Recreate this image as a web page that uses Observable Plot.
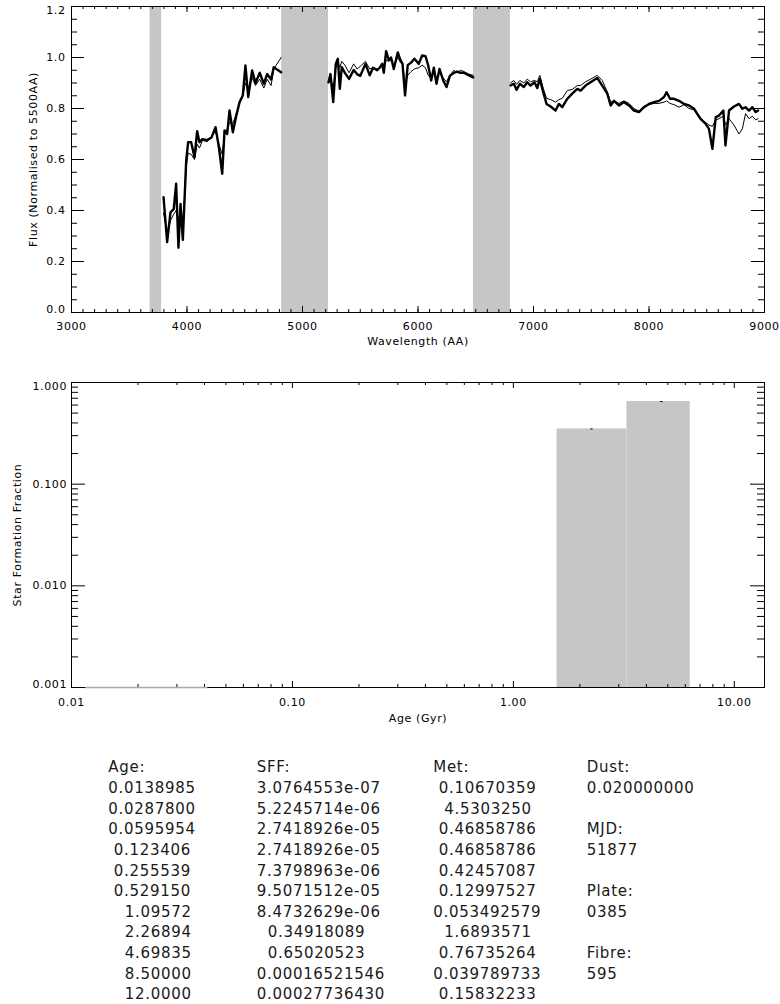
<!DOCTYPE html>
<html><head><meta charset="utf-8">
<script src="https://cdn.jsdelivr.net/npm/d3@7"></script>
<script src="https://cdn.jsdelivr.net/npm/@observablehq/plot@0.6"></script>
<style>
html,body{margin:0;padding:0;background:#fff;}
#page{position:relative;width:780px;height:1004px;overflow:hidden;background:#fff;}
#page > svg{position:absolute;left:0;}
</style></head><body><div id="page"></div>
<script>
// ---------- Spectrum data (thick = observed, thin = model) ----------
const wave1 = [3797,3828,3857,3885,3906,3926,3944,3964,3993,4010,4036,4065,4088,4108,4134,4175,4212,4247,4276,4305,4325,4348,4368,4397,4426,4455,4483,4506,4530,4564,4593,4630,4665,4694,4728,4751,4815];
const obs1  = [0.452,0.276,0.393,0.405,0.505,0.254,0.426,0.285,0.596,0.668,0.668,0.609,0.711,0.668,0.68,0.676,0.686,0.727,0.648,0.544,0.714,0.70,0.792,0.707,0.77,0.825,0.851,0.969,0.845,0.949,0.90,0.94,0.897,0.935,0.914,0.962,0.942];
const mod1  = [0.39,0.31,0.36,0.385,0.40,0.36,0.40,0.33,0.57,0.625,0.62,0.60,0.66,0.645,0.675,0.67,0.69,0.71,0.66,0.62,0.70,0.72,0.745,0.74,0.78,0.82,0.85,0.90,0.87,0.92,0.89,0.915,0.88,0.915,0.89,0.955,1.0];

const wave2 = [5225,5242,5266,5288,5306,5323,5340,5367,5403,5443,5472,5500,5545,5582,5611,5646,5669,5690,5704,5724,5747,5767,5790,5825,5848,5866,5888,5911,5940,5969,6007,6036,6065,6088,6114,6137,6160,6186,6218,6247,6276,6311,6339,6368,6397,6440,6478];
const obs2  = [0.903,0.935,0.825,0.975,0.995,0.877,0.962,0.94,0.916,0.951,0.935,0.928,0.975,0.93,0.96,0.95,0.96,0.975,0.94,1.025,0.99,1.0,0.955,1.02,0.99,0.975,0.851,0.97,0.98,0.995,0.975,1.008,1.005,0.97,0.91,0.96,0.897,0.955,0.91,0.884,0.928,0.94,0.945,0.94,0.94,0.93,0.922];
const mod2  = [0.90,0.92,0.88,0.96,0.985,0.96,0.985,0.97,0.94,0.975,0.955,0.965,0.985,0.955,0.96,0.955,0.96,0.97,0.955,0.99,0.985,0.99,0.97,1.0,0.98,0.975,0.90,0.93,0.945,0.955,0.96,0.97,0.96,0.93,0.92,0.945,0.92,0.94,0.92,0.905,0.93,0.95,0.94,0.95,0.945,0.935,0.93];

const wave3 = [6801,6830,6853,6882,6916,6945,6974,7009,7032,7055,7084,7113,7148,7191,7220,7249,7292,7335,7379,7408,7451,7494,7552,7595,7639,7668,7697,7740,7783,7827,7870,7913,7957,8000,8043,8087,8130,8153,8182,8217,8260,8303,8347,8390,8418,8447,8491,8519,8549,8578,8606,8644,8662,8693,8736,8779,8808,8836,8866,8895,8924,8945];
const obs3  = [0.89,0.897,0.873,0.897,0.884,0.903,0.89,0.903,0.88,0.916,0.864,0.818,0.808,0.792,0.818,0.805,0.838,0.858,0.877,0.87,0.89,0.903,0.92,0.89,0.858,0.812,0.83,0.812,0.825,0.812,0.792,0.786,0.805,0.818,0.825,0.83,0.845,0.864,0.838,0.838,0.83,0.818,0.812,0.799,0.779,0.759,0.74,0.72,0.642,0.766,0.772,0.792,0.655,0.792,0.808,0.818,0.799,0.805,0.792,0.805,0.786,0.792];
const mod3  = [0.90,0.91,0.895,0.91,0.90,0.915,0.905,0.91,0.905,0.93,0.88,0.84,0.835,0.825,0.835,0.84,0.87,0.875,0.89,0.89,0.905,0.915,0.93,0.91,0.865,0.825,0.83,0.82,0.83,0.82,0.80,0.79,0.81,0.815,0.82,0.82,0.825,0.83,0.82,0.815,0.805,0.815,0.80,0.795,0.775,0.755,0.745,0.735,0.73,0.755,0.76,0.77,0.735,0.76,0.735,0.70,0.72,0.78,0.76,0.77,0.755,0.76];

// masked wavelength regions (grey bands)
const maskStart = [3680, 4820, 6480];
const maskEnd   = [3780, 5225, 6800];

// ---------- Fit results ----------
const ageText = ["0.0138985","0.0287800","0.0595954"," 0.123406"," 0.255539"," 0.529150","   1.09572","   2.26894","   4.69835","   8.50000","   12.0000"];
const sffText = ["3.0764553e-07","5.2245714e-06","2.7418926e-05","2.7418926e-05","7.3798963e-06","9.5071512e-05","8.4732629e-06","  0.34918089","  0.65020523","0.00016521546","0.00027736430"];
const metText = [" 0.10670359","  4.5303250"," 0.46858786"," 0.46858786"," 0.42457087"," 0.12997527","0.053492579","  1.6893571"," 0.76735264","0.039789733"," 0.15832233"];
const infoText = ["Dust:","0.020000000","","MJD:","51877","","Plate:","0385","","Fibre:","595"];

// tick values
const specXMajor = d3.range(3000, 9001, 1000);
const specXMinor = d3.range(3000, 9001, 100);
const specYMajor = [0, 0.2, 0.4, 0.6, 0.8, 1.0, 1.2];
const specYMinor = d3.range(0, 1.2001, 0.05);
const ageMajor = [0.01, 0.1, 1, 10];
const ageMinor = [0.01, 0.1, 1].flatMap(p => d3.range(2, 10).map(k => k * p));
const sffMajor = [0.001, 0.01, 0.1, 1];
const sffMinor = [0.001, 0.01, 0.1].flatMap(p => d3.range(2, 10).map(k => k * p));

// ---------- helpers ----------
const FONT = {fontFamily: "'DejaVu Sans', sans-serif", fontSize: "11px", letterSpacing: "0.6px", color: "#000", background: "#fff", overflow: "visible"};
// inward tick marks on all four sides; tick lengths given in pixels, converted through the scales
function boxTicks(sx, sy, xMaj, xMin, yMaj, yMin, xl, xs, yl, ys) {
  const [xa, xb] = sx.range;   // left, right pixel
  const [ya, yb] = sy.range;   // bottom, top pixel
  const m = [];
  for (const [vals, len] of [[xMin, xs], [xMaj, xl]]) {
    m.push(Plot.ruleX(vals, {x: d => d, y1: sy.invert(ya), y2: sy.invert(ya - len), stroke: "#000"}));
    m.push(Plot.ruleX(vals, {x: d => d, y1: sy.invert(yb), y2: sy.invert(yb + len), stroke: "#000"}));
  }
  for (const [vals, len] of [[yMin, ys], [yMaj, yl]]) {
    m.push(Plot.ruleY(vals, {y: d => d, x1: sx.invert(xa), x2: sx.invert(xa + len), stroke: "#000"}));
    m.push(Plot.ruleY(vals, {y: d => d, x1: sx.invert(xb), x2: sx.invert(xb - len), stroke: "#000"}));
  }
  return m;
}

const page = document.getElementById("page");
const W = 780, ml = 71, mr = 16;

// ---------- Top chart: spectrum ----------
const spec = [];
[[wave1, obs1, mod1], [wave2, obs2, mod2], [wave3, obs3, mod3]].forEach(([w, o, m], s) =>
  w.forEach((x, i) => spec.push({w: x, obs: o[i], mod: m[i], seg: s})));
const bands = maskStart.map((s, i) => ({x1: s, x2: maskEnd[i]}));

const H1 = 350, mt1 = 6, mb1 = 38;
const xSpec = {domain: [3000, 9000], range: [ml, W - mr]};
const ySpec = {domain: [0, 1.2], range: [H1 - mb1, mt1]};
const sxSpec = Plot.scale({x: xSpec}), sySpec = Plot.scale({y: ySpec});
const specChart = Plot.plot({
  width: W, height: H1, marginLeft: ml, marginRight: mr, marginTop: mt1, marginBottom: mb1,
  style: FONT,
  x: xSpec, y: ySpec,
  marks: [
    Plot.rect(bands, {x1: "x1", x2: "x2", y1: 0, y2: 1.2, fill: "#c6c6c6"}),
    Plot.line(spec, {x: "w", y: "obs", z: "seg", stroke: "#000", strokeWidth: 2.4}),
    Plot.line(spec, {x: "w", y: "mod", z: "seg", stroke: "#000", strokeWidth: 1}),
    ...boxTicks(sxSpec, sySpec, specXMajor, specXMinor, specYMajor, specYMinor, 6, 3, 13, 6),
    Plot.frame({stroke: "#000"}),
    Plot.axisX({ticks: specXMajor, tickSize: 0, tickPadding: 9.5, tickFormat: d => String(d), label: null}),
    Plot.axisY({ticks: specYMajor.slice(1, -1), tickSize: 0, tickPadding: 6, tickFormat: d3.format(".1f"), label: null}),
    Plot.axisY({ticks: [1.2], tickSize: 0, tickPadding: 6, dy: 4, tickFormat: d3.format(".1f"), label: null}),
    Plot.axisY({ticks: [0], tickSize: 0, tickPadding: 6, dy: -3.5, tickFormat: d3.format(".1f"), label: null}),
    Plot.text(["Wavelength (AA)"], {frameAnchor: "bottom", dy: 29, text: d => d, fontSize: 11, textAnchor: "middle", lineAnchor: "middle"}),
    Plot.text(["Flux (Normalised to 5500AA)"], {frameAnchor: "left", dx: -38, rotate: -90, text: d => d, fontSize: 11, textAnchor: "middle", lineAnchor: "middle"})
  ]
});
specChart.style.top = "0px";
page.appendChild(specChart);

// ---------- Bottom chart: star formation fraction ----------
const ages = ageText.map(Number);
const sff = sffText.map(Number);
const edges = ages.map((a, i) => i === 0 ? a / Math.sqrt(ages[1] / a) : Math.sqrt(ages[i - 1] * a));
edges.push(ages[ages.length - 1] * Math.sqrt(ages[ages.length - 1] / ages[ages.length - 2]));
const bins = ages.map((a, i) => ({x1: edges[i], x2: edges[i + 1], age: a, v: sff[i]}));
const shown = bins.filter(b => b.v >= 0.001);

const H2 = 380, mt2 = 32, mb2 = 43;
const xAge = {type: "log", domain: [0.01, 13.7], range: [ml, W - mr]};
const ySff = {type: "log", domain: [0.001, 1], range: [H2 - mb2, mt2]};
const sxAge = Plot.scale({x: xAge}), sySff = Plot.scale({y: ySff});
const sffChart = Plot.plot({
  width: W, height: H2, marginLeft: ml, marginRight: mr, marginTop: mt2, marginBottom: mb2,
  style: FONT,
  x: xAge, y: ySff,
  marks: [
    Plot.rect(bins, {x1: "x1", x2: "x2", y1: 0.001, y2: "v", fill: "#c6c6c6", clip: true}),
    Plot.ruleY(shown, {x1: d => d.age / 1.012, x2: d => d.age * 1.012, y: "v", stroke: "#000"}),
    ...boxTicks(sxAge, sySff, ageMajor, ageMinor, sffMajor, sffMinor, 6, 3, 14, 7),
    Plot.frame({stroke: "#000"}),
    Plot.ruleY([0.001], {x1: 0.0116, x2: edges[2], stroke: "#a8a8a8", strokeWidth: 1.5}),
    Plot.axisX({ticks: ageMajor, tickSize: 0, tickPadding: 10.5, tickFormat: d3.format(".2f"), label: null}),
    Plot.axisY({ticks: [0.01, 0.1], tickSize: 0, tickPadding: 4.5, tickFormat: d3.format(".3f"), label: null}),
    Plot.axisY({ticks: [1], tickSize: 0, tickPadding: 4.5, dy: 3.7, tickFormat: d3.format(".3f"), label: null}),
    Plot.axisY({ticks: [0.001], tickSize: 0, tickPadding: 4.5, dy: -3, tickFormat: d3.format(".3f"), label: null}),
    Plot.text(["Age (Gyr)"], {frameAnchor: "bottom", dy: 31, text: d => d, fontSize: 11, textAnchor: "middle", lineAnchor: "middle"}),
    Plot.text(["Star Formation Fraction"], {frameAnchor: "left", dx: -54, rotate: -90, text: d => d, fontSize: 11, textAnchor: "middle", lineAnchor: "middle"})
  ]
});
sffChart.style.top = "350px";
page.appendChild(sffChart);

// ---------- Table of results ----------
const T0 = 740;
const svg = d3.select(page).append("svg")
  .attr("width", W).attr("height", 1004 - T0)
  .style("top", T0 + "px")
  .attr("font-family", "'DejaVu Sans', sans-serif")
  .attr("font-size", 15)
  .style("letter-spacing", "0.7px");
const rowY = i => 772.2 - T0 + i * 20.66;
const SP = 5.5;
const cols = [
  {x: 108.3, rows: ["Age:", ...ageText]},
  {x: 256.7, rows: ["SFF:", ...sffText]},
  {x: 433.3, rows: ["Met:", ...metText]},
  {x: 586.7, rows: infoText}
];
cols.forEach(c => c.rows.forEach((s, i) => {
  if (!s) return;
  const lead = s.length - s.trimStart().length;
  svg.append("text").attr("x", c.x + lead * SP).attr("y", rowY(i)).attr("fill", "#1a1a1a").text(s.trim());
}));
</script></body></html>
